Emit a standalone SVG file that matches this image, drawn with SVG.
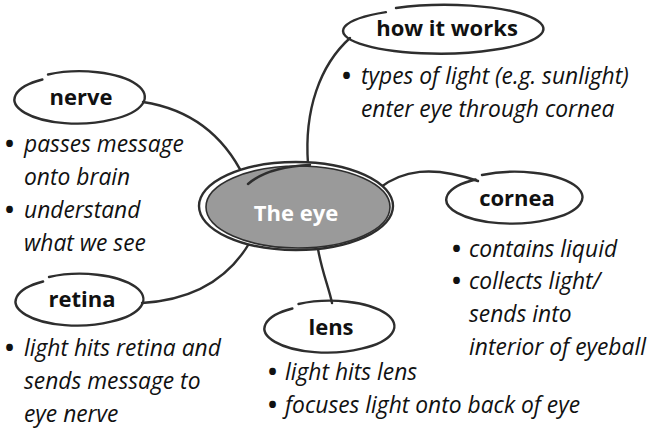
<svg xmlns="http://www.w3.org/2000/svg" width="649" height="432" viewBox="0 0 649 432">
<style>
.bg{fill:#ffffff}
.conn{fill:none;stroke:#2e2e2e;stroke-width:2.4;stroke-linecap:round}
.oval{fill:none;stroke:#2e2e2e;stroke-width:2.4;stroke-linecap:round}
.lbl{font-family:"Open Sans","Noto Sans",sans-serif;font-weight:bold;font-size:22px;fill:#111;text-anchor:middle}
.note{font-family:"Open Sans","Noto Sans",sans-serif;font-style:italic;font-size:22.8px;fill:#111}
.bul{font-family:"Open Sans","Noto Sans",sans-serif;font-weight:bold;font-size:24px;fill:#111}
.center{font-family:"Open Sans","Noto Sans",sans-serif;font-weight:bold;font-size:22px;fill:#ffffff;text-anchor:middle}
</style>
<rect class="bg" x="0" y="0" width="649" height="432"/>
<g id="connectors">
<path class="conn" d="M143,102 C195,110 226,140 244,177"/>
<path class="conn" d="M350,38 C320,65 304,110 308,164"/>
<path class="conn" d="M378,189 C402,170 432,165 478,181"/>
<path class="conn" d="M142,303 C192,300 228,280 250,242"/>
<path class="conn" d="M318,249 C322,272 329,288 332,303"/>
</g>
<g id="the-eye">
<ellipse cx="296" cy="206" rx="97" ry="44" fill="#ffffff" stroke="#2e2e2e" stroke-width="2.4"/>
<ellipse cx="298" cy="207" rx="92" ry="41" fill="#9a9a9a" stroke="#2e2e2e" stroke-width="1.6"/>
<path class="conn" d="M248,184 C262,172 285,166 310,165"/>
<text class="center" x="296" y="221">The eye</text>
</g>
<g id="how-it-works">
<path class="oval" d="M396,8 A98,24 0 0 1 494,49.8 A96,22.5 0 0 1 385.9,12.1"/>
<text class="lbl" x="447" y="36">how it works</text>
<text class="bul" x="342" y="84">•</text>
<text class="note" x="361" y="84">types of light (e.g. sunlight)</text>
<text class="note" x="361" y="117">enter eye through cornea</text>
</g>
<g id="nerve">
<path class="oval" d="M48,74.5 A63,25 0 0 1 111.5,119.6 A61,23.5 0 0 1 42.4,79.5"/>
<text class="lbl" x="81" y="105">nerve</text>
<text class="bul" x="5" y="152">•</text>
<text class="note" x="24" y="152">passes message</text>
<text class="note" x="24" y="185">onto brain</text>
<text class="bul" x="5" y="218">•</text>
<text class="note" x="24" y="218">understand</text>
<text class="note" x="24" y="251">what we see</text>
</g>
<g id="cornea">
<path class="oval" d="M482,175 A66,25 0 0 1 548,219.6 A64,23.5 0 0 1 475.6,179.5"/>
<text class="lbl" x="517" y="206">cornea</text>
<text class="bul" x="452" y="257">•</text>
<text class="note" x="469" y="257">contains liquid</text>
<text class="bul" x="452" y="289">•</text>
<text class="note" x="469" y="289">collects light/</text>
<text class="note" x="469" y="322">sends into</text>
<text class="note" x="469" y="355">interior of eyeball</text>
</g>
<g id="retina">
<path class="oval" d="M49,277 A62,25 0 0 1 111,321.6 A60,23.5 0 0 1 43.1,281.5"/>
<text class="lbl" x="82" y="307">retina</text>
<text class="bul" x="5" y="356">•</text>
<text class="note" x="24" y="356">light hits retina and</text>
<text class="note" x="24" y="389">sends message to</text>
<text class="note" x="24" y="422">eye nerve</text>
</g>
<g id="lens">
<path class="oval" d="M298.5,304 A63,25 0 0 1 361.5,348.6 A61,23.5 0 0 1 292.4,308.5"/>
<text class="lbl" x="331" y="335">lens</text>
<text class="bul" x="268" y="380">•</text>
<text class="note" x="285" y="380">light hits lens</text>
<text class="bul" x="268" y="413">•</text>
<text class="note" x="285" y="413">focuses light onto back of eye</text>
</g>
</svg>
